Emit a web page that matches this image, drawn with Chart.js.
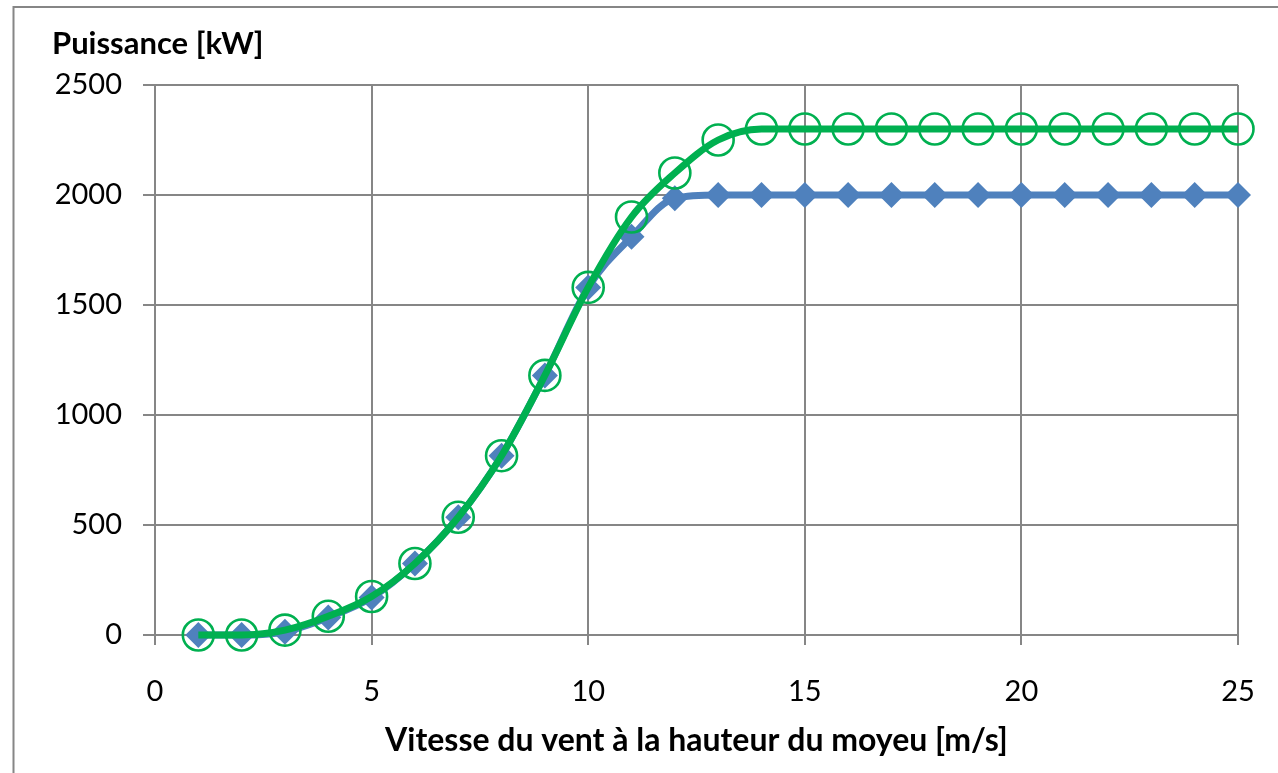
<!DOCTYPE html>
<html>
<head>
<meta charset="utf-8">
<script src="https://cdn.jsdelivr.net/npm/chart.js@4/dist/chart.umd.min.js"></script>
<style>
  html, body { margin: 0; padding: 0; background: #fff; }
  #wrap { width: 1278px; height: 773px; position: relative; }
</style>
</head>
<body>
<div id="wrap"><canvas id="c" width="1278" height="773"></canvas></div>
<script>
const windSpeeds = [1,2,3,4,5,6,7,8,9,10,11,12,13,14,15,16,17,18,19,20,21,22,23,24,25];
const powerBlue  = [0,0,15,80,170,325,535,815,1180,1580,1810,1985,2000,2000,2000,2000,2000,2000,2000,2000,2000,2000,2000,2000,2000];
const powerGreen = [0,0,22,85,175,325,535,815,1180,1580,1900,2100,2250,2300,2300,2300,2300,2300,2300,2300,2300,2300,2300,2300,2300];
const yAxisTitle = 'Puissance [kW]';
const xAxisTitle = 'Vitesse du vent à la hauteur du moyeu [m/s]';

const FONT = 'Lato, "Open Sans", sans-serif';
const GRID = '#868686';

const extras = {
  id: 'extras',
  beforeDraw(chart) {
    const ctx = chart.ctx;
    ctx.save();
    ctx.strokeStyle = GRID;
    ctx.lineWidth = 2;
    ctx.beginPath();
    ctx.moveTo(13.5, 773);
    ctx.lineTo(13.5, 7);
    ctx.lineTo(1278, 7);
    ctx.stroke();
    ctx.restore();
  },
  afterDraw(chart) {
    const ctx = chart.ctx;
    ctx.save();
    ctx.fillStyle = '#000';
    ctx.font = 'bold 31px ' + FONT;
    ctx.textBaseline = 'middle';
    ctx.textAlign = 'left';
    ctx.fillText(yAxisTitle, 52, 44);
    ctx.restore();
  }
};

new Chart(document.getElementById('c'), {
  type: 'line',
  data: {
    datasets: [
      {
        label: 'A',
        order: 2,
        data: windSpeeds.map((x, i) => ({x, y: powerBlue[i]})),
        borderColor: '#4F81BD',
        backgroundColor: '#4F81BD',
        borderWidth: 7,
        pointStyle: 'rectRot',
        pointRadius: 13,
        pointBorderWidth: 0,
        pointBackgroundColor: '#4F81BD',
        cubicInterpolationMode: 'monotone',
        clip: false
      },
      {
        label: 'B',
        order: 1,
        data: windSpeeds.map((x, i) => ({x, y: powerGreen[i]})),
        borderColor: '#00B050',
        backgroundColor: 'rgba(0,0,0,0)',
        borderWidth: 7,
        pointStyle: 'circle',
        pointRadius: 15.5,
        pointBorderWidth: 2.6,
        pointBorderColor: '#00B050',
        pointBackgroundColor: 'rgba(0,0,0,0)',
        cubicInterpolationMode: 'monotone',
        clip: false
      }
    ]
  },
  options: {
    responsive: false,
    animation: false,
    devicePixelRatio: 1,
    layout: { padding: { left: 0, right: 40, top: 85, bottom: 0 } },
    plugins: { legend: { display: false }, tooltip: { enabled: false } },
    scales: {
      x: {
        type: 'linear',
        min: 0, max: 25,
        ticks: { stepSize: 5, autoSkip: false, maxRotation: 0, padding: 29, color: '#000', font: { family: FONT, size: 29 } },
        grid: { color: GRID, lineWidth: 2, tickLength: 10, tickColor: GRID },
        border: { color: GRID, width: 2 },
        title: { display: true, text: xAxisTitle, color: '#000', font: { family: FONT, size: 32, weight: 'bold' }, padding: { top: 0, bottom: 13 } },
        afterFit(scale) { scale.height = 138; scale.paddingLeft = 0; scale.paddingRight = 0; }
      },
      y: {
        type: 'linear',
        min: 0, max: 2500,
        ticks: { stepSize: 500, autoSkip: false, padding: 21, color: '#000', font: { family: FONT, size: 29 }, callback: (v) => String(v) },
        grid: { color: GRID, lineWidth: 2, tickLength: 12, tickColor: GRID },
        border: { color: GRID, width: 2 },
        afterFit(scale) { scale.width = 155; scale.paddingTop = 0; scale.paddingBottom = 0; }
      }
    }
  },
  plugins: [extras]
});
</script>
</body>
</html>
